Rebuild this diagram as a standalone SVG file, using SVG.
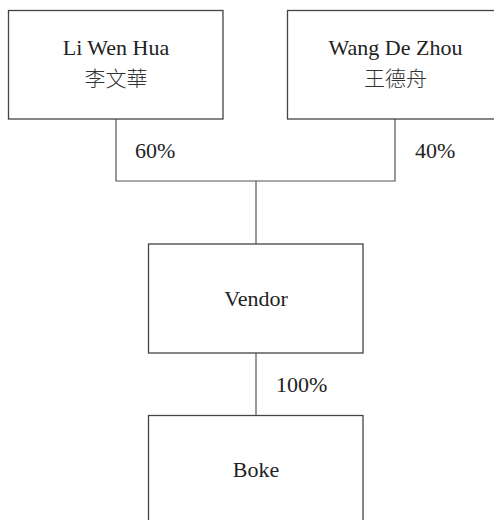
<svg xmlns="http://www.w3.org/2000/svg" width="494" height="520" viewBox="0 0 494 520">
<style>
.box{fill:#fff;stroke:#444;stroke-width:1.3}
.ln{fill:none;stroke:#555;stroke-width:1.2}
.t{font-family:"Liberation Serif","Noto Serif CJK SC","Noto Sans CJK TC",serif;font-size:22px;fill:#222;text-anchor:middle}
.c{font-family:"Noto Sans CJK TC","Noto Sans CJK SC",sans-serif;font-size:21px;fill:#333;text-anchor:middle;font-weight:300}
.p{font-family:"Liberation Serif",serif;font-size:22px;fill:#222}
</style>
<rect width="494" height="520" fill="#fff"/>
<g id="connectors">
<path class="ln" d="M116,119V181H395V119"/>
<path class="ln" d="M256,181V244"/>
<path class="ln" d="M256,353V415.5"/>
<text class="p" x="135" y="158">60%</text>
<text class="p" x="415" y="158">40%</text>
<text class="p" x="276" y="392">100%</text>
</g>
<g id="li">
<rect class="box" x="8.5" y="10.5" width="214.5" height="108.5"/>
<text class="t" x="116" y="55">Li Wen Hua</text>
<text class="c" x="116" y="86">李文華</text>
</g>
<g id="wang">
<rect class="box" x="287.5" y="10.5" width="220" height="108.5"/>
<text class="t" x="395.5" y="55">Wang De Zhou</text>
<text class="c" x="395.5" y="86">王德舟</text>
</g>
<g id="vendor">
<rect class="box" x="148.5" y="244" width="214.5" height="109"/>
<text class="t" x="256" y="306">Vendor</text>
</g>
<g id="boke">
<rect class="box" x="148.5" y="415.5" width="214.5" height="120"/>
<text class="t" x="256" y="477">Boke</text>
</g>
</svg>
